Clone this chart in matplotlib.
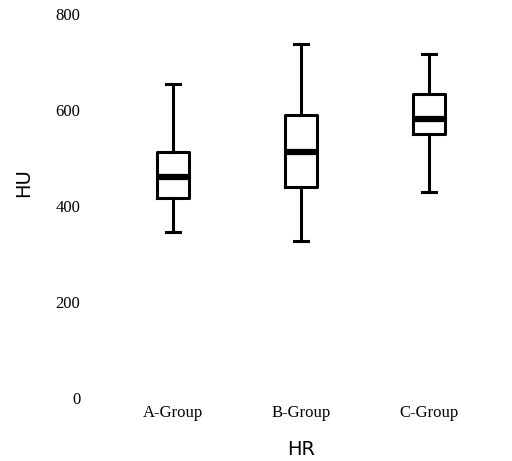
import matplotlib.pyplot as plt

groups = ["A-Group", "B-Group", "C-Group"]
whislo = [346, 326, 428]
q1 = [417, 440, 549]
med = [461, 513, 580]
q3 = [512, 590, 633]
whishi = [654, 737, 717]
yticks = [0, 200, 400, 600, 800]

stats = []
for i in range(len(groups)):
    stats.append(dict(label=groups[i], whislo=whislo[i], q1=q1[i], med=med[i],
                      q3=q3[i], whishi=whishi[i], fliers=[]))

fig = plt.figure(figsize=(5.12, 4.61), dpi=100)
ax = fig.add_axes([0.176, 0.137, 0.824, 0.833])

ax.bxp(stats, positions=[1, 2, 3], widths=0.25, showfliers=False,
       boxprops=dict(color="black", lw=2.2),
       whiskerprops=dict(color="black", lw=2.2),
       capprops=dict(color="black", lw=2.2),
       medianprops=dict(color="black", lw=4.5),
       capwidths=0.11)

ax.set_xlim(0.35, 3.65)
ax.set_ylim(0, 800)
ax.set_yticks(yticks)
for s in ax.spines.values():
    s.set_visible(False)
ax.tick_params(length=0)
ax.tick_params(axis="y", pad=7)
ax.tick_params(axis="x", pad=5)
for lab in ax.get_xticklabels() + ax.get_yticklabels():
    lab.set_family("Liberation Serif")
    lab.set_fontsize(12)

ax.set_xlabel("HR", fontsize=14)
ax.set_ylabel("HU", fontsize=14)
ax.xaxis.set_label_coords(0.5, -0.11)
ax.yaxis.set_label_coords(-0.135, 0.56)

fig.savefig("out.png", dpi=100)
